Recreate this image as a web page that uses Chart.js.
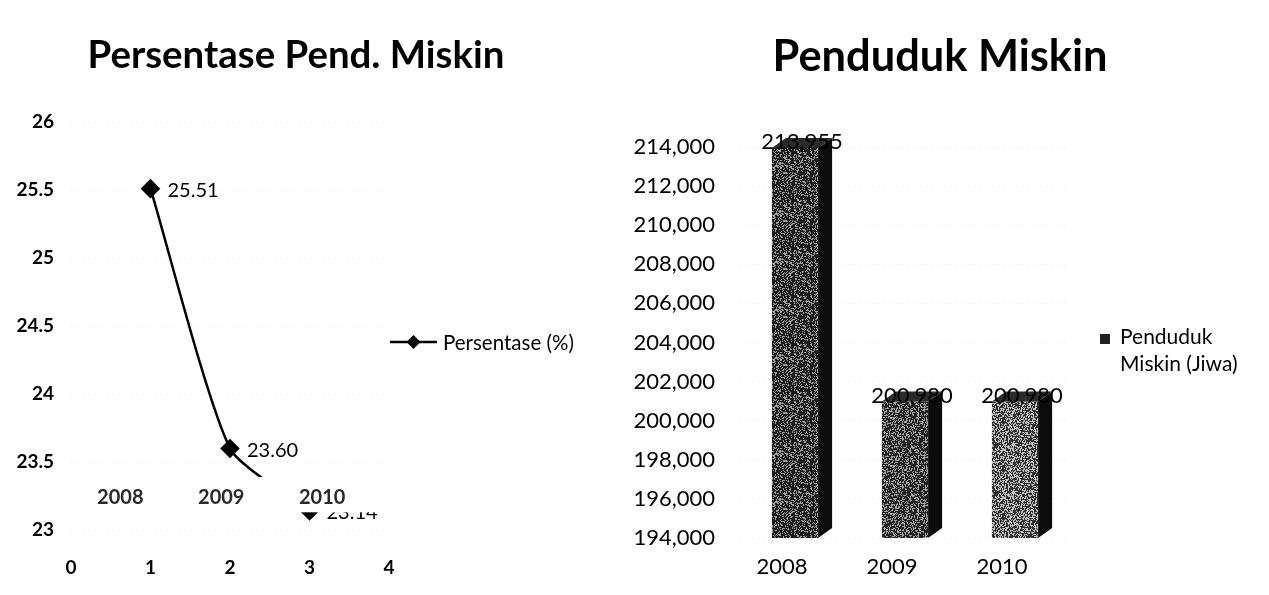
<!DOCTYPE html>
<html>
<head>
<meta charset="utf-8">
<script src="https://cdn.jsdelivr.net/npm/chart.js@4.4.1/dist/chart.umd.min.js"></script>
<style>
    html, body { margin: 0; padding: 0; background: #fff; }
    #wrap { position: relative; width: 1269px; height: 595px; overflow: hidden; }
    #leftBox { position: absolute; left: 0; top: 0; width: 590px; height: 595px; }
    #rightBox { position: absolute; left: 590px; top: 0; width: 679px; height: 595px; }
</style>
</head>
<body>
<div id="wrap">
    <div id="leftBox"><canvas id="pctChart"></canvas></div>
    <div id="rightBox"><canvas id="popChart"></canvas></div>
</div>
<script>
const FONT = 'Lato, "Open Sans", sans-serif';

// Left chart: percentage of poor population
const PCT_TITLE = 'Persentase Pend. Miskin';
const PCT_SERIES = 'Persentase (%)';
const PCT_X = [1, 2, 3];
const PCT_VALUES = [25.51, 23.60, 23.14];
const PCT_YEARS = ['2008', '2009', '2010'];

// Right chart: number of poor people
const POP_TITLE = 'Penduduk Miskin';
const POP_LEGEND = ['Penduduk', 'Miskin (Jiwa)'];
const POP_YEARS = ['2008', '2009', '2010'];
const POP_VALUES = [213955, 200980, 200980];

// title fitted to the width it has in the scan
function drawTitle(ctx, text, cx, cy, width) {
    ctx.save();
    ctx.font = `bold 100px ${FONT}`;
    const size = 100 * width / ctx.measureText(text).width;
    ctx.font = `bold ${size}px ${FONT}`;
    ctx.fillStyle = '#000';
    ctx.textAlign = 'center';
    ctx.textBaseline = 'middle';
    ctx.fillText(text, cx, cy);
    ctx.restore();
}

// speckled fill like the scanned 3D bars (deterministic texture)
function speckle(base, light, density, seed) {
    const c = document.createElement('canvas');
    c.width = c.height = 48;
    const g = c.getContext('2d');
    g.fillStyle = base;
    g.fillRect(0, 0, 48, 48);
    g.fillStyle = light;
    let s = seed;
    for (let i = 0; i < 48 * 48; i++) {
        s = (s * 1103515245 + 12345) & 0x7fffffff;
        if ((s % 1000) / 1000 < density) g.fillRect(i % 48, Math.floor(i / 48), 1, 1);
    }
    return g.createPattern(c, 'repeat');
}

const pctDecor = {
    id: 'pctDecor',
    afterDatasetsDraw(chart) {
        const { ctx, chartArea, scales } = chart;
        const pts = chart.getDatasetMeta(0).data;
        ctx.save();
        ctx.fillStyle = '#000';
        ctx.font = `20px ${FONT}`;
        ctx.textAlign = 'left';
        ctx.textBaseline = 'middle';
        pts.forEach((p, i) => ctx.fillText(PCT_VALUES[i].toFixed(2), p.x + 17, p.y + 2));

        // white strip of the category labels hides part of the line
        const yTop = scales.y.getPixelForValue(23.39);
        const yBot = scales.y.getPixelForValue(23.13);
        ctx.fillStyle = '#fff';
        ctx.fillRect(chartArea.left + 2, yTop, chartArea.right - chartArea.left + 20, yBot - yTop);

        ctx.fillStyle = '#2a2a2a';
        ctx.font = `bold 20px ${FONT}`;
        ctx.textAlign = 'center';
        PCT_YEARS.forEach((yr, i) => {
            ctx.fillText(yr, scales.x.getPixelForValue(0.62 + i * 1.27), scales.y.getPixelForValue(23.24));
        });

        // legend
        const lx = chartArea.right + 1, ly = 342;
        ctx.strokeStyle = '#000';
        ctx.lineWidth = 2.5;
        ctx.beginPath();
        ctx.moveTo(lx, ly);
        ctx.lineTo(lx + 47, ly);
        ctx.stroke();
        ctx.fillStyle = '#000';
        ctx.beginPath();
        ctx.moveTo(lx + 23.5, ly - 7);
        ctx.lineTo(lx + 30.5, ly);
        ctx.lineTo(lx + 23.5, ly + 7);
        ctx.lineTo(lx + 16.5, ly);
        ctx.closePath();
        ctx.fill();
        ctx.font = `20.5px ${FONT}`;
        ctx.textAlign = 'left';
        ctx.fillText(chart.data.datasets[0].label, lx + 53, ly + 1);
        ctx.restore();

        drawTitle(ctx, PCT_TITLE, 296, 56, 417);
    }
};

new Chart(document.getElementById('pctChart'), {
    type: 'line',
    data: {
        datasets: [{
            label: PCT_SERIES,
            data: PCT_X.map((x, i) => ({ x, y: PCT_VALUES[i] })),
            borderColor: '#000',
            backgroundColor: '#000',
            borderWidth: 2.5,
            pointStyle: 'rectRot',
            pointRadius: 8,
            pointHoverRadius: 8,
            tension: 0.2,
            clip: false
        }]
    },
    options: {
        responsive: true,
        maintainAspectRatio: false,
        animation: false,
        layout: { padding: { top: 122, right: 201, bottom: 0, left: 0 } },
        plugins: { legend: { display: false }, tooltip: { enabled: false } },
        scales: {
            x: {
                type: 'linear',
                min: 0,
                max: 4,
                afterFit: s => { s.height = 65; },
                grid: { display: false, drawTicks: false },
                border: { display: false },
                ticks: { stepSize: 1, padding: 26, color: '#000', font: { family: FONT, size: 19, weight: 'bold' } }
            },
            y: {
                min: 23,
                max: 26,
                afterFit: s => { s.width = 71; },
                grid: { color: '#e6e6e6', drawTicks: false },
                border: { display: false, dash: [1, 5] },
                ticks: {
                    stepSize: 0.5,
                    padding: 17,
                    color: '#000',
                    font: { family: FONT, size: 19, weight: 'bold' },
                    callback: v => String(v)
                }
            }
        }
    },
    plugins: [pctDecor]
});

const barDecor = {
    id: 'barDecor',
    afterDatasetsDraw(chart) {
        const { ctx, chartArea } = chart;
        const bars = chart.getDatasetMeta(0).data;
        const d = 14, h = 10;
        ctx.save();
        bars.forEach(b => {
            const left = b.x - b.width / 2, right = b.x + b.width / 2;
            const base = Math.min(b.base, chartArea.bottom);
            ctx.fillStyle = '#0c0c0c';
            ctx.beginPath();
            ctx.moveTo(right, b.y);
            ctx.lineTo(right + d, b.y - h);
            ctx.lineTo(right + d, base - h);
            ctx.lineTo(right, base);
            ctx.closePath();
            ctx.fill();
            ctx.fillStyle = '#2a2a2a';
            ctx.beginPath();
            ctx.moveTo(left, b.y);
            ctx.lineTo(left + d, b.y - h);
            ctx.lineTo(right + d, b.y - h);
            ctx.lineTo(right, b.y);
            ctx.closePath();
            ctx.fill();
        });
        ctx.fillStyle = '#000';
        ctx.font = `22px ${FONT}`;
        ctx.textAlign = 'center';
        ctx.textBaseline = 'middle';
        bars.forEach((b, i) => ctx.fillText(POP_VALUES[i].toLocaleString('en-US'), b.x + 7, b.y - 6));

        // legend
        const lx = chartArea.right + 30;
        ctx.fillStyle = '#222';
        ctx.fillRect(lx, 334, 10, 10);
        ctx.font = `21px ${FONT}`;
        ctx.textAlign = 'left';
        ctx.fillStyle = '#000';
        ctx.fillText(POP_LEGEND[0], lx + 20, 337);
        ctx.fillText(POP_LEGEND[1], lx + 20, 364);
        ctx.restore();

        drawTitle(ctx, POP_TITLE, 350, 57, 335);
    }
};

new Chart(document.getElementById('popChart'), {
    type: 'bar',
    data: {
        labels: POP_YEARS,
        datasets: [{
            label: POP_LEGEND.join(' '),
            data: POP_VALUES,
            backgroundColor: [
                speckle('#1c1c1c', '#9c9c9c', 0.30, 7),
                speckle('#222222', '#a4a4a4', 0.34, 19),
                speckle('#303030', '#c0c0c0', 0.42, 31)
            ],
            borderWidth: 0,
            barPercentage: 0.42,
            categoryPercentage: 1
        }]
    },
    options: {
        responsive: true,
        maintainAspectRatio: false,
        animation: false,
        locale: 'en-US',
        layout: { padding: { top: 147, right: 199, bottom: 0, left: 0 } },
        plugins: { legend: { display: false }, tooltip: { enabled: false } },
        scales: {
            x: {
                afterFit: s => { s.height = 57; },
                grid: { display: false, drawTicks: false },
                border: { display: false },
                ticks: { padding: 16, labelOffset: -13, color: '#000', font: { family: FONT, size: 22 } }
            },
            y: {
                min: 194000,
                max: 214000,
                afterFit: s => { s.width = 150; },
                grid: { color: '#e6e6e6', drawTicks: false },
                border: { display: false, dash: [1, 5] },
                ticks: { stepSize: 2000, padding: 25, color: '#000', font: { family: FONT, size: 22 } }
            }
        }
    },
    plugins: [barDecor]
});
</script>
</body>
</html>
